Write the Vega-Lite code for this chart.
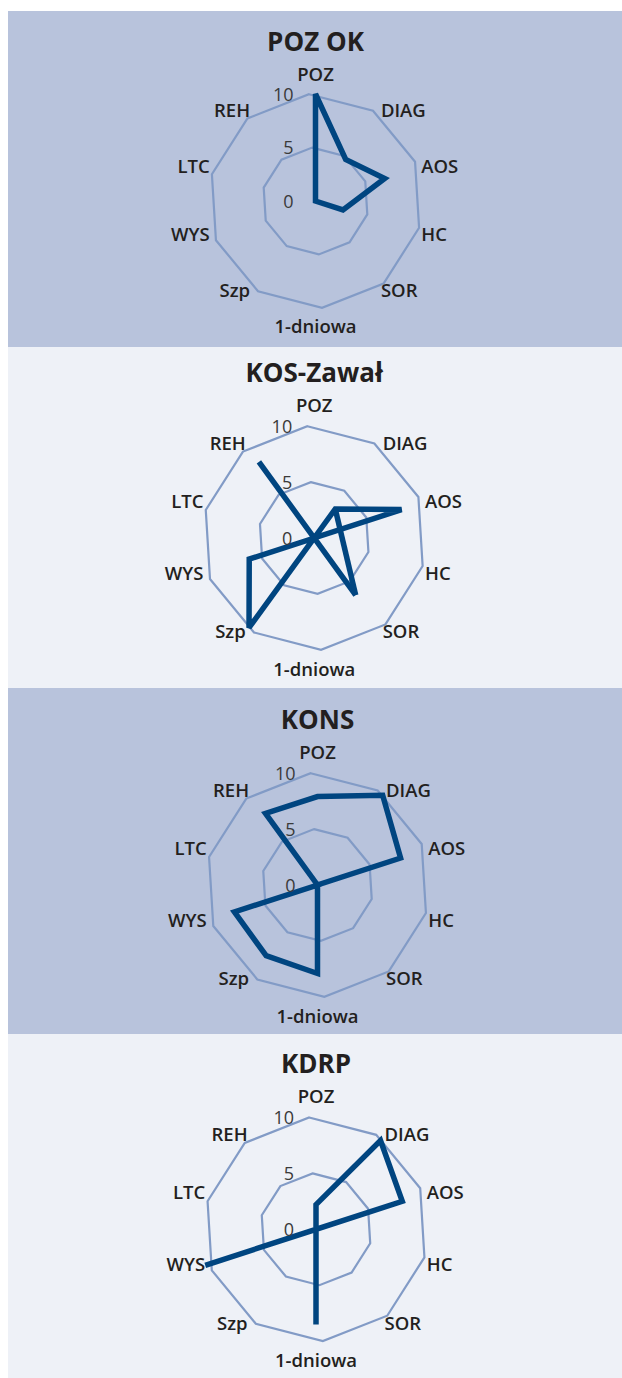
{
  "$schema": "https://vega.github.io/schema/vega-lite/v6.json",
  "padding": {"left": 8, "top": 11, "right": 0, "bottom": 0},
  "background": "white",
  "spacing": 0,
  "config": {"view": {"stroke": null}, "concat": {"spacing": 0}},
  "datasets": {
    "scores": [
      {"p": 1, "k": "POZ", "i": 0, "v": 10}, {"p": 1, "k": "DIAG", "i": 1, "v": 4.8}, {"p": 1, "k": "AOS", "i": 2, "v": 6.8}, {"p": 1, "k": "HC", "i": 3, "v": 2.7}, {"p": 1, "k": "SOR", "i": 4, "v": 0}, {"p": 1, "k": "1-dniowa", "i": 5, "v": 0}, {"p": 1, "k": "Szp", "i": 6, "v": 0}, {"p": 1, "k": "WYS", "i": 7, "v": 0}, {"p": 1, "k": "LTC", "i": 8, "v": 0}, {"p": 1, "k": "REH", "i": 9, "v": 0},
      {"p": 2, "k": "POZ", "i": 0, "v": 0}, {"p": 2, "k": "DIAG", "i": 1, "v": 3.2}, {"p": 2, "k": "AOS", "i": 2, "v": 8.2}, {"p": 2, "k": "HC", "i": 3, "v": 0}, {"p": 2, "k": "SOR", "i": 4, "v": 6.3}, {"p": 2, "k": "1-dniowa", "i": 5, "v": 0}, {"p": 2, "k": "Szp", "i": 6, "v": 9.9}, {"p": 2, "k": "WYS", "i": 7, "v": 6.1}, {"p": 2, "k": "LTC", "i": 8, "v": 0}, {"p": 2, "k": "REH", "i": 9, "v": 8.4},
      {"p": 3, "k": "POZ", "i": 0, "v": 7.9}, {"p": 3, "k": "DIAG", "i": 1, "v": 9.9}, {"p": 3, "k": "AOS", "i": 2, "v": 7.8}, {"p": 3, "k": "HC", "i": 3, "v": 0}, {"p": 3, "k": "SOR", "i": 4, "v": 0}, {"p": 3, "k": "1-dniowa", "i": 5, "v": 7.9}, {"p": 3, "k": "Szp", "i": 6, "v": 7.8}, {"p": 3, "k": "WYS", "i": 7, "v": 7.8}, {"p": 3, "k": "LTC", "i": 8, "v": 0}, {"p": 3, "k": "REH", "i": 9, "v": 7.9},
      {"p": 4, "k": "POZ", "i": 0, "v": 2.2}, {"p": 4, "k": "DIAG", "i": 1, "v": 9.8}, {"p": 4, "k": "AOS", "i": 2, "v": 8.1}, {"p": 4, "k": "HC", "i": 3, "v": 0}, {"p": 4, "k": "SOR", "i": 4, "v": 0}, {"p": 4, "k": "1-dniowa", "i": 5, "v": 8.5}, {"p": 4, "k": "Szp", "i": 6, "v": 0}, {"p": 4, "k": "WYS", "i": 7, "v": 10.4}, {"p": 4, "k": "LTC", "i": 8, "v": 0}, {"p": 4, "k": "REH", "i": 9, "v": 0}
    ],
    "extra": [
      {"p": 2, "k": "DIAG", "i": 1, "v": 3.2}, {"p": 2, "k": "SOR", "i": 4, "v": 6.3}
    ],
    "rings": [
      {"level": 5, "i": 0}, {"level": 5, "i": 1}, {"level": 5, "i": 2}, {"level": 5, "i": 3}, {"level": 5, "i": 4}, {"level": 5, "i": 5}, {"level": 5, "i": 6}, {"level": 5, "i": 7}, {"level": 5, "i": 8}, {"level": 5, "i": 9},
      {"level": 10, "i": 0}, {"level": 10, "i": 1}, {"level": 10, "i": 2}, {"level": 10, "i": 3}, {"level": 10, "i": 4}, {"level": 10, "i": 5}, {"level": 10, "i": 6}, {"level": 10, "i": 7}, {"level": 10, "i": 8}, {"level": 10, "i": 9}
    ],
    "axes": [
      {"k": "POZ", "i": 0}, {"k": "DIAG", "i": 1}, {"k": "AOS", "i": 2}, {"k": "HC", "i": 3}, {"k": "SOR", "i": 4}, {"k": "1-dniowa", "i": 5}, {"k": "Szp", "i": 6}, {"k": "WYS", "i": 7}, {"k": "LTC", "i": 8}, {"k": "REH", "i": 9}
    ],
    "ticks": [{"t": "0", "v": 0}, {"t": "5", "v": 5}, {"t": "10", "v": 10}],
    "titles": [{"p": 1, "title": "POZ OK", "ty": 14.8}, {"p": 2, "title": "KOS-Zawał", "ty": 14.65}, {"p": 3, "title": "KONS", "ty": 14.6}, {"p": 4, "title": "KDRP", "ty": 14.7}]
  },
  "vconcat": [
    {
      "width": 614, "height": 336,
      "view": {"fill": "#b8c3dc", "stroke": null},
      "encoding": {
        "x": {"field": "x", "type": "quantitative", "scale": {"domain": [-28.738, 28.645], "nice": false, "zero": false}, "axis": null},
        "y": {"field": "y", "type": "quantitative", "scale": {"domain": [-13.645, 17.757], "nice": false, "zero": false}, "axis": null}
      },
      "layer": [
        {"data": {"name": "rings"}, "transform": [{"calculate": "datum.level*sin((datum.i*36-3.5)*PI/180)", "as": "x"}, {"calculate": "datum.level*cos((datum.i*36-3.5)*PI/180)", "as": "y"}],
         "mark": {"type": "line", "interpolate": "linear-closed", "stroke": "#829bc6", "strokeWidth": 2.2},
         "encoding": {"detail": {"field": "level"}, "order": {"field": "i"}}},
        {"data": {"name": "scores"}, "transform": [{"filter": "datum.p==1"}, {"calculate": "datum.v*sin(datum.i*PI/5)", "as": "x"}, {"calculate": "datum.v*cos(datum.i*PI/5)", "as": "y"}],
         "mark": {"type": "line", "interpolate": "linear-closed", "stroke": "#004580", "strokeWidth": 5.5, "strokeJoin": "miter", "strokeMiterLimit": 2},
         "encoding": {"order": {"field": "i"}}},
        {"data": {"name": "axes"}, "transform": [{"filter": "datum.i==0||datum.i==5"}, {"calculate": "11.8*sin(datum.i*PI/5)", "as": "x"}, {"calculate": "11.8*cos(datum.i*PI/5)", "as": "y"}],
         "mark": {"type": "text", "align": "center", "baseline": "middle", "font": "Open Sans", "fontWeight": 600, "fontSize": 18.5, "fill": "#231f20"},
         "encoding": {"text": {"field": "k"}}},
        {"data": {"name": "axes"}, "transform": [{"filter": "datum.i>=1&&datum.i<=4"}, {"calculate": "10.4*sin(datum.i*PI/5)", "as": "x"}, {"calculate": "10.4*cos(datum.i*PI/5)", "as": "y"}],
         "mark": {"type": "text", "align": "left", "baseline": "middle", "font": "Open Sans", "fontWeight": 600, "fontSize": 18.5, "fill": "#231f20"},
         "encoding": {"text": {"field": "k"}}},
        {"data": {"name": "axes"}, "transform": [{"filter": "datum.i>=6"}, {"calculate": "10.4*sin(datum.i*PI/5)", "as": "x"}, {"calculate": "10.4*cos(datum.i*PI/5)", "as": "y"}],
         "mark": {"type": "text", "align": "right", "baseline": "middle", "font": "Open Sans", "fontWeight": 600, "fontSize": 18.5, "fill": "#231f20"},
         "encoding": {"text": {"field": "k"}}},
        {"data": {"name": "ticks"}, "transform": [{"calculate": "0", "as": "x"}, {"calculate": "datum.v", "as": "y"}],
         "mark": {"type": "text", "align": "right", "baseline": "middle", "dx": -22, "dy": 2, "font": "Open Sans", "fontWeight": 400, "fontSize": 18, "fill": "#3a3a3a"},
         "encoding": {"text": {"field": "t"}}},
        {"data": {"name": "titles"}, "transform": [{"filter": "datum.p==1"}, {"calculate": "0", "as": "x"}, {"calculate": "datum.ty", "as": "y"}],
         "mark": {"type": "text", "align": "center", "baseline": "middle", "font": "Open Sans", "fontWeight": 700, "fontSize": 26, "fill": "#231f20"},
         "encoding": {"text": {"field": "title"}}}
      ]
    },
    {
      "width": 614, "height": 341,
      "view": {"fill": "#eef1f7", "stroke": null},
      "encoding": {
        "x": {"field": "x", "type": "quantitative", "scale": {"domain": [-27.339, 27.482], "nice": false, "zero": false}, "axis": null},
        "y": {"field": "y", "type": "quantitative", "scale": {"domain": [-13.393, 17.054], "nice": false, "zero": false}, "axis": null}
      },
      "layer": [
        {"data": {"name": "rings"}, "transform": [{"calculate": "datum.level*sin((datum.i*36-3.5)*PI/180)", "as": "x"}, {"calculate": "datum.level*cos((datum.i*36-3.5)*PI/180)", "as": "y"}],
         "mark": {"type": "line", "interpolate": "linear-closed", "stroke": "#829bc6", "strokeWidth": 2.2},
         "encoding": {"detail": {"field": "level"}, "order": {"field": "i"}}},
        {"data": {"name": "scores"}, "transform": [{"filter": "datum.p==2"}, {"calculate": "datum.v*sin(datum.i*PI/5)", "as": "x"}, {"calculate": "datum.v*cos(datum.i*PI/5)", "as": "y"}],
         "mark": {"type": "line", "interpolate": "linear-closed", "stroke": "#004580", "strokeWidth": 5.5, "strokeJoin": "miter", "strokeMiterLimit": 2},
         "encoding": {"order": {"field": "i"}}},
        {"data": {"name": "extra"}, "transform": [{"calculate": "datum.v*sin(datum.i*PI/5)", "as": "x"}, {"calculate": "datum.v*cos(datum.i*PI/5)", "as": "y"}],
         "mark": {"type": "line", "stroke": "#004580", "strokeWidth": 5.5, "strokeCap": "butt"},
         "encoding": {"order": {"field": "i"}}},
        {"data": {"name": "axes"}, "transform": [{"filter": "datum.i==0||datum.i==5"}, {"calculate": "11.8*sin(datum.i*PI/5)", "as": "x"}, {"calculate": "11.8*cos(datum.i*PI/5)", "as": "y"}],
         "mark": {"type": "text", "align": "center", "baseline": "middle", "font": "Open Sans", "fontWeight": 600, "fontSize": 18.5, "fill": "#231f20"},
         "encoding": {"text": {"field": "k"}}},
        {"data": {"name": "axes"}, "transform": [{"filter": "datum.i>=1&&datum.i<=4"}, {"calculate": "10.4*sin(datum.i*PI/5)", "as": "x"}, {"calculate": "10.4*cos(datum.i*PI/5)", "as": "y"}],
         "mark": {"type": "text", "align": "left", "baseline": "middle", "font": "Open Sans", "fontWeight": 600, "fontSize": 18.5, "fill": "#231f20"},
         "encoding": {"text": {"field": "k"}}},
        {"data": {"name": "axes"}, "transform": [{"filter": "datum.i>=6"}, {"calculate": "10.4*sin(datum.i*PI/5)", "as": "x"}, {"calculate": "10.4*cos(datum.i*PI/5)", "as": "y"}],
         "mark": {"type": "text", "align": "right", "baseline": "middle", "font": "Open Sans", "fontWeight": 600, "fontSize": 18.5, "fill": "#231f20"},
         "encoding": {"text": {"field": "k"}}},
        {"data": {"name": "ticks"}, "transform": [{"calculate": "0", "as": "x"}, {"calculate": "datum.v", "as": "y"}],
         "mark": {"type": "text", "align": "right", "baseline": "middle", "dx": -22, "dy": 2, "font": "Open Sans", "fontWeight": 400, "fontSize": 18, "fill": "#3a3a3a"},
         "encoding": {"text": {"field": "t"}}},
        {"data": {"name": "titles"}, "transform": [{"filter": "datum.p==2"}, {"calculate": "0", "as": "x"}, {"calculate": "datum.ty", "as": "y"}],
         "mark": {"type": "text", "align": "center", "baseline": "middle", "font": "Open Sans", "fontWeight": 700, "fontSize": 26, "fill": "#231f20"},
         "encoding": {"text": {"field": "title"}}}
      ]
    },
    {
      "width": 614, "height": 346,
      "view": {"fill": "#b8c3dc", "stroke": null},
      "encoding": {
        "x": {"field": "x", "type": "quantitative", "scale": {"domain": [-27.634, 27.188], "nice": false, "zero": false}, "axis": null},
        "y": {"field": "y", "type": "quantitative", "scale": {"domain": [-13.304, 17.589], "nice": false, "zero": false}, "axis": null}
      },
      "layer": [
        {"data": {"name": "rings"}, "transform": [{"calculate": "datum.level*sin((datum.i*36-3.5)*PI/180)", "as": "x"}, {"calculate": "datum.level*cos((datum.i*36-3.5)*PI/180)", "as": "y"}],
         "mark": {"type": "line", "interpolate": "linear-closed", "stroke": "#829bc6", "strokeWidth": 2.2},
         "encoding": {"detail": {"field": "level"}, "order": {"field": "i"}}},
        {"data": {"name": "scores"}, "transform": [{"filter": "datum.p==3"}, {"calculate": "datum.v*sin(datum.i*PI/5)", "as": "x"}, {"calculate": "datum.v*cos(datum.i*PI/5)", "as": "y"}],
         "mark": {"type": "line", "interpolate": "linear-closed", "stroke": "#004580", "strokeWidth": 5.5, "strokeJoin": "miter", "strokeMiterLimit": 2},
         "encoding": {"order": {"field": "i"}}},
        {"data": {"name": "axes"}, "transform": [{"filter": "datum.i==0||datum.i==5"}, {"calculate": "11.8*sin(datum.i*PI/5)", "as": "x"}, {"calculate": "11.8*cos(datum.i*PI/5)", "as": "y"}],
         "mark": {"type": "text", "align": "center", "baseline": "middle", "font": "Open Sans", "fontWeight": 600, "fontSize": 18.5, "fill": "#231f20"},
         "encoding": {"text": {"field": "k"}}},
        {"data": {"name": "axes"}, "transform": [{"filter": "datum.i>=1&&datum.i<=4"}, {"calculate": "10.4*sin(datum.i*PI/5)", "as": "x"}, {"calculate": "10.4*cos(datum.i*PI/5)", "as": "y"}],
         "mark": {"type": "text", "align": "left", "baseline": "middle", "font": "Open Sans", "fontWeight": 600, "fontSize": 18.5, "fill": "#231f20"},
         "encoding": {"text": {"field": "k"}}},
        {"data": {"name": "axes"}, "transform": [{"filter": "datum.i>=6"}, {"calculate": "10.4*sin(datum.i*PI/5)", "as": "x"}, {"calculate": "10.4*cos(datum.i*PI/5)", "as": "y"}],
         "mark": {"type": "text", "align": "right", "baseline": "middle", "font": "Open Sans", "fontWeight": 600, "fontSize": 18.5, "fill": "#231f20"},
         "encoding": {"text": {"field": "k"}}},
        {"data": {"name": "ticks"}, "transform": [{"calculate": "0", "as": "x"}, {"calculate": "datum.v", "as": "y"}],
         "mark": {"type": "text", "align": "right", "baseline": "middle", "dx": -22, "dy": 2, "font": "Open Sans", "fontWeight": 400, "fontSize": 18, "fill": "#3a3a3a"},
         "encoding": {"text": {"field": "t"}}},
        {"data": {"name": "titles"}, "transform": [{"filter": "datum.p==3"}, {"calculate": "0", "as": "x"}, {"calculate": "datum.ty", "as": "y"}],
         "mark": {"type": "text", "align": "center", "baseline": "middle", "font": "Open Sans", "fontWeight": 700, "fontSize": 26, "fill": "#231f20"},
         "encoding": {"text": {"field": "title"}}}
      ]
    },
    {
      "width": 614, "height": 344,
      "view": {"fill": "#eef1f7", "stroke": null},
      "encoding": {
        "x": {"field": "x", "type": "quantitative", "scale": {"domain": [-27.5, 27.321], "nice": false, "zero": false}, "axis": null},
        "y": {"field": "y", "type": "quantitative", "scale": {"domain": [-13.277, 17.438], "nice": false, "zero": false}, "axis": null}
      },
      "layer": [
        {"data": {"name": "rings"}, "transform": [{"calculate": "datum.level*sin((datum.i*36-3.5)*PI/180)", "as": "x"}, {"calculate": "datum.level*cos((datum.i*36-3.5)*PI/180)", "as": "y"}],
         "mark": {"type": "line", "interpolate": "linear-closed", "stroke": "#829bc6", "strokeWidth": 2.2},
         "encoding": {"detail": {"field": "level"}, "order": {"field": "i"}}},
        {"data": {"name": "scores"}, "transform": [{"filter": "datum.p==4"}, {"calculate": "datum.v*sin(datum.i*PI/5)", "as": "x"}, {"calculate": "datum.v*cos(datum.i*PI/5)", "as": "y"}],
         "mark": {"type": "line", "interpolate": "linear-closed", "stroke": "#004580", "strokeWidth": 5.5, "strokeJoin": "miter", "strokeMiterLimit": 2},
         "encoding": {"order": {"field": "i"}}},
        {"data": {"name": "axes"}, "transform": [{"filter": "datum.i==0||datum.i==5"}, {"calculate": "11.8*sin(datum.i*PI/5)", "as": "x"}, {"calculate": "11.8*cos(datum.i*PI/5)", "as": "y"}],
         "mark": {"type": "text", "align": "center", "baseline": "middle", "font": "Open Sans", "fontWeight": 600, "fontSize": 18.5, "fill": "#231f20"},
         "encoding": {"text": {"field": "k"}}},
        {"data": {"name": "axes"}, "transform": [{"filter": "datum.i>=1&&datum.i<=4"}, {"calculate": "10.4*sin(datum.i*PI/5)", "as": "x"}, {"calculate": "10.4*cos(datum.i*PI/5)", "as": "y"}],
         "mark": {"type": "text", "align": "left", "baseline": "middle", "font": "Open Sans", "fontWeight": 600, "fontSize": 18.5, "fill": "#231f20"},
         "encoding": {"text": {"field": "k"}}},
        {"data": {"name": "axes"}, "transform": [{"filter": "datum.i>=6"}, {"calculate": "10.4*sin(datum.i*PI/5)", "as": "x"}, {"calculate": "10.4*cos(datum.i*PI/5)", "as": "y"}],
         "mark": {"type": "text", "align": "right", "baseline": "middle", "font": "Open Sans", "fontWeight": 600, "fontSize": 18.5, "fill": "#231f20"},
         "encoding": {"text": {"field": "k"}}},
        {"data": {"name": "ticks"}, "transform": [{"calculate": "0", "as": "x"}, {"calculate": "datum.v", "as": "y"}],
         "mark": {"type": "text", "align": "right", "baseline": "middle", "dx": -22, "dy": 2, "font": "Open Sans", "fontWeight": 400, "fontSize": 18, "fill": "#3a3a3a"},
         "encoding": {"text": {"field": "t"}}},
        {"data": {"name": "titles"}, "transform": [{"filter": "datum.p==4"}, {"calculate": "0", "as": "x"}, {"calculate": "datum.ty", "as": "y"}],
         "mark": {"type": "text", "align": "center", "baseline": "middle", "font": "Open Sans", "fontWeight": 700, "fontSize": 26, "fill": "#231f20"},
         "encoding": {"text": {"field": "title"}}}
      ]
    }
  ]
}
